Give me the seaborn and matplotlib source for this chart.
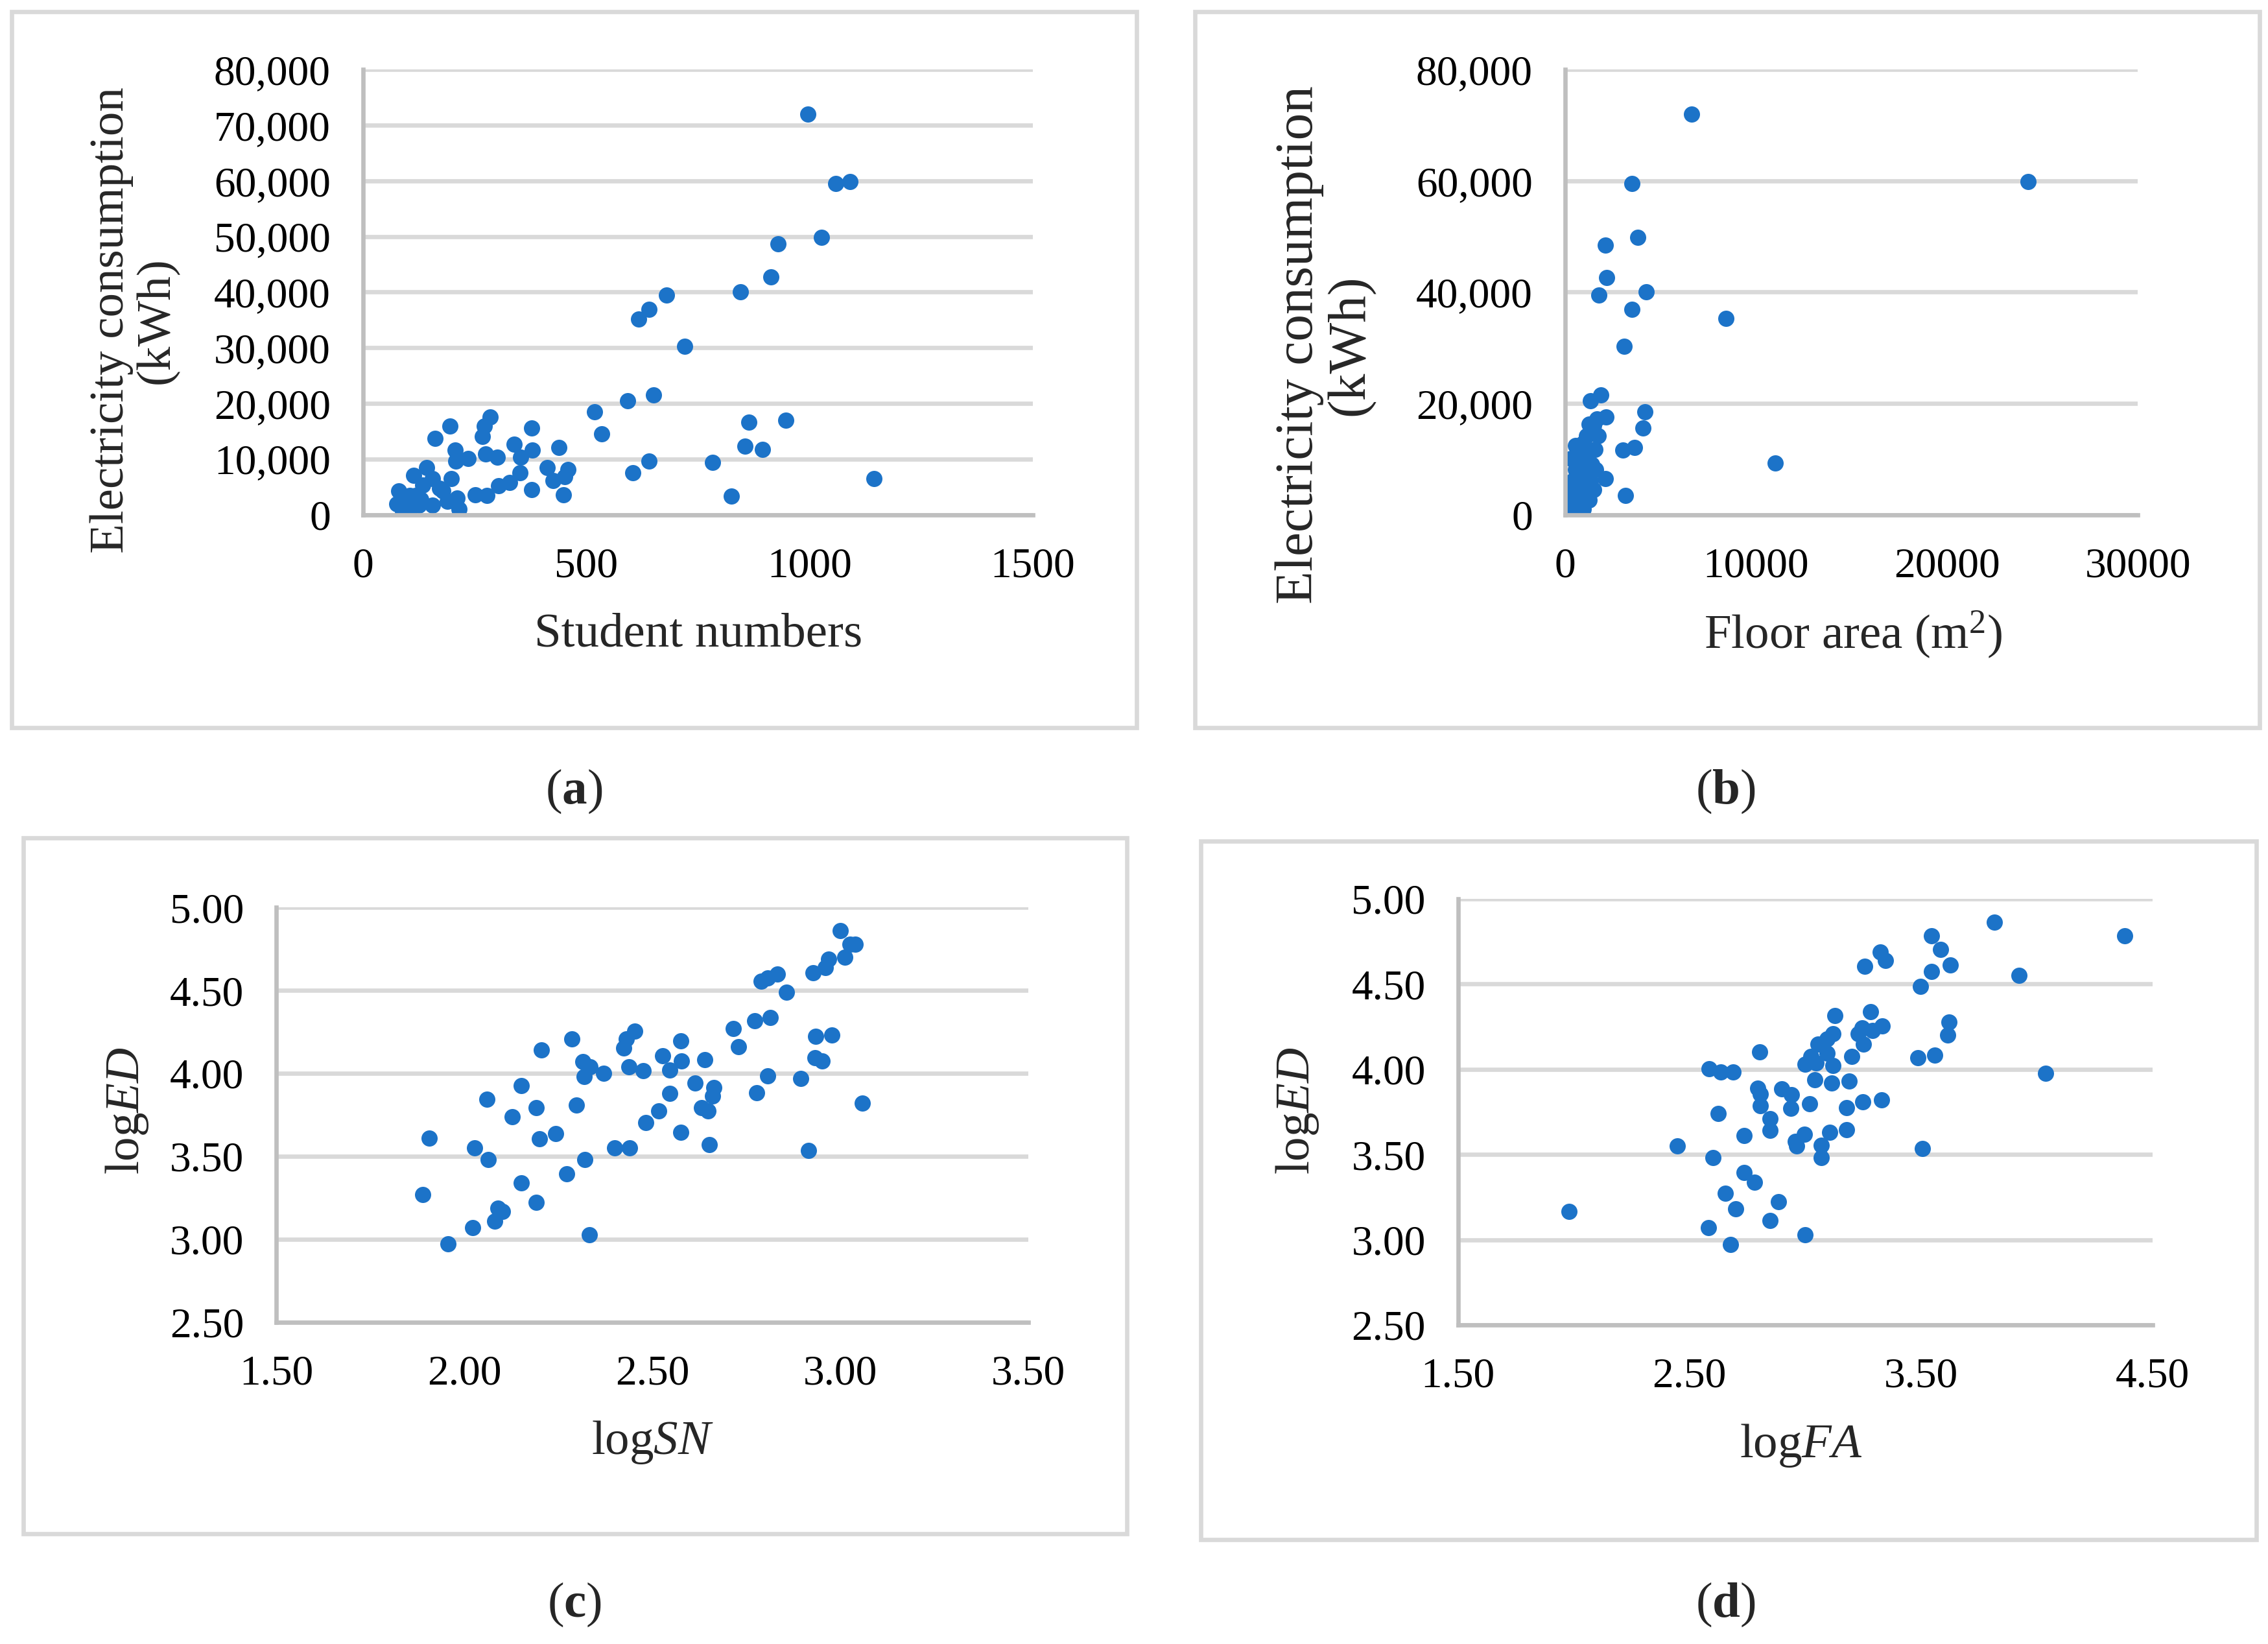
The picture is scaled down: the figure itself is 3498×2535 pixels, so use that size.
import matplotlib
matplotlib.use("Agg")
import matplotlib.pyplot as plt
import seaborn as sns
from matplotlib.patches import Rectangle
from matplotlib.ticker import FuncFormatter, MultipleLocator, FixedLocator

# ---------------- data ----------------
# (a) Student numbers vs electricity consumption (kWh)
sn_a = [997, 1059, 1090, 1027, 929, 914, 846, 680, 641, 617, 721, 651, 592, 519, 535,
        864, 947, 856, 895, 783, 641, 604, 825, 1144, 439, 377, 379, 338, 353, 351,
        413, 459, 426, 452, 449, 377, 329, 304, 285, 272, 267, 275, 301, 277, 251,
        236, 207, 208, 194, 198, 161, 215, 210, 179, 189, 172, 155, 143, 133, 155,
        114, 117, 125, 104, 106, 80, 75, 89, 130, 94]
ed_a = [72020, 59573, 59916, 49787, 48671, 42748, 40087, 39486, 36911, 35194, 30302, 21546,
        20516, 18541, 14507, 16653, 16997, 12361, 11760, 9357, 9614, 7554, 3348, 6524,
        12018, 15623, 11588, 12618, 10301, 7554, 8498, 8155, 6180, 6867, 3605, 4464, 5751,
        5150, 17597, 15880, 14078, 10902, 10301, 3434, 3605, 10129, 11588, 9614, 15966,
        6438, 13734, 1030, 3004, 4292, 2404, 4721, 6438, 8412, 5322, 1717, 7039, 3434,
        1717, 3434, 1116, 4292, 1974, 601, 2747, 2404]

# (b) Floor area (m2) vs electricity consumption (kWh)
fa_b = [6627, 24264, 3492, 3812, 2102, 2173, 1782, 4240, 3492, 8444, 3100, 1888, 1318, 4169,
        4097, 2138, 3029, 3634, 11010, 2102, 3171, 1675, 1496, 1247, 1746, 1140, 962, 534,
        1568, 784, 1140, 321, 606, 1390, 962, 1603, 606, 1140, 427, 891, 1496, 321, 1033,
        178, 677, 1247, 71, 427, 962, 100, 784, 1318, 534, 820, 1425, 1069]
ed_b = [72020, 59916, 59573, 49787, 48500, 42662, 39486, 40087, 36911, 35280, 30302, 21546,
        20516, 18456, 15537, 17597, 11588, 12018, 9271, 6438, 3434, 17168, 16052, 16310,
        14164, 14164, 12876, 12447, 11760, 11159, 10301, 10129, 9443, 9013, 8155, 8155,
        7296, 6867, 6180, 5580, 4464, 4721, 3863, 3434, 3004, 2575, 1717, 1288, 1030, 1545,
        2146, 6009, 8155, 12018, 15451, 3004]

# (c) logSN vs logED
logsn_c = [1.889, 1.907, 1.957, 2.023, 2.027, 2.060, 2.063, 2.081, 2.089, 2.102, 2.127, 2.152,
           2.152, 2.191, 2.191, 2.199, 2.205, 2.243, 2.273, 2.286, 2.298, 2.315, 2.319, 2.321,
           2.333, 2.334, 2.371, 2.400, 2.424, 2.431, 2.439, 2.437, 2.453, 2.476, 2.482, 2.517,
           2.528, 2.546, 2.547, 2.575, 2.576, 2.578, 2.613, 2.631, 2.640, 2.648, 2.652, 2.660,
           2.664, 2.716, 2.729, 2.772, 2.778, 2.789, 2.807, 2.807, 2.813, 2.832, 2.857, 2.894,
           2.915, 2.927, 2.935, 2.933, 2.952, 2.960, 2.969, 2.977, 2.999, 3.012, 3.026, 3.039,
           3.059]
loged_c = [3.271, 3.609, 2.971, 3.069, 3.549, 3.843, 3.480, 3.107, 3.186, 3.167, 3.739, 3.925,
           3.338, 3.793, 3.224, 3.606, 4.140, 3.635, 3.394, 4.207, 3.808, 4.071, 3.979, 3.480,
           3.028, 4.039, 4.001, 3.549, 4.153, 4.207, 3.549, 4.039, 4.254, 4.017, 3.704, 3.774,
           4.106, 3.878, 4.020, 4.197, 3.644, 4.074, 3.941, 3.793, 4.083, 3.774, 3.571, 3.865,
           3.916, 4.270, 4.162, 4.317, 3.884, 4.554, 4.577, 3.985, 4.336, 4.599, 4.488, 3.970,
           3.537, 4.608, 4.223, 4.096, 4.074, 4.637, 4.690, 4.232, 4.861, 4.700, 4.779, 4.779,
           3.821]

# (d) logFA vs logED
logfa_d = [1.981, 2.448, 2.583, 2.586, 2.601, 2.624, 2.636, 2.654, 2.677, 2.689, 2.700, 2.736,
           2.736, 2.780, 2.794, 2.803, 2.806, 2.806, 2.847, 2.847, 2.847, 2.885, 2.900, 2.941,
           2.938, 2.959, 2.962, 2.997, 3.000, 3.000, 3.020, 3.026, 3.041, 3.047, 3.056, 3.070,
           3.070, 3.094, 3.094, 3.106, 3.114, 3.120, 3.120, 3.129, 3.179, 3.179, 3.191, 3.202,
           3.229, 3.246, 3.249, 3.252, 3.258, 3.282, 3.290, 3.326, 3.329, 3.334, 3.346, 3.487,
           3.499, 3.508, 3.546, 3.546, 3.560, 3.584, 3.616, 3.622, 3.628, 3.819, 3.924, 4.039,
           4.382]
loged_d = [3.167, 3.549, 3.072, 4.004, 3.481, 3.739, 3.985, 3.272, 2.974, 3.985, 3.183, 3.610,
           3.395, 3.336, 3.890, 4.102, 3.856, 3.788, 3.709, 3.641, 3.112, 3.223, 3.884, 3.850,
           3.773, 3.579, 3.549, 3.619, 4.031, 3.029, 3.797, 4.074, 3.939, 4.037, 4.148, 3.555,
           3.481, 4.179, 4.096, 3.632, 3.918, 4.022, 4.210, 4.314, 3.776, 3.647, 3.930, 4.074,
           4.207, 4.244, 3.810, 4.148, 4.603, 4.339, 4.226, 4.689, 3.822, 4.253, 4.637, 4.068,
           4.486, 3.536, 4.782, 4.573, 4.084, 4.702, 4.201, 4.277, 4.613, 4.862, 4.551, 3.976,
           4.782]

xticks_d = [1.5, 2.5, 3.5, 4.5]
panel_letters = ["a", "b", "c", "d"]

# ---------------- style ----------------
sns.set_theme(style="white")
plt.rcParams['font.family'] = ['Liberation Serif', 'DejaVu Serif']
plt.rcParams['mathtext.fontset'] = 'custom'
plt.rcParams['mathtext.rm'] = 'Liberation Serif'
plt.rcParams['mathtext.it'] = 'Liberation Serif:italic'
plt.rcParams['mathtext.bf'] = 'Liberation Serif:bold'

DOT = "#1c73c8"
GRID = "#d9d9d9"
SPINE = "#bfbfbf"
TICK_FS = 15.7
LAB_FS = 18
DOT_S = 36

W, H = 1568.0, 1134.0  # layout reference units (top-left origin)
fig = plt.figure(figsize=(3498 / 300, 2535 / 300), dpi=300)
fig.patch.set_facecolor("white")


def frac_rect(x0, y0, x1, y1):
    return [x0 / W, 1 - y1 / H, (x1 - x0) / W, (y1 - y0) / H]


def fpt(x, y):
    return (x / W, 1 - y / H)


# outer panel borders
for (x0, y0, x1, y1) in [(8, 8, 786, 502), (826, 8, 1562, 502),
                         (16, 578, 779, 1058), (830, 580, 1560, 1062)]:
    fig.add_artist(Rectangle((x0 / W, 1 - y1 / H), (x1 - x0) / W, (y1 - y0) / H,
                             transform=fig.transFigure, fill=False, ec=GRID, lw=1.6))

comma = FuncFormatter(lambda v, p: f"{v:,.0f}")
plain = FuncFormatter(lambda v, p: f"{v:.0f}")
two = FuncFormatter(lambda v, p: f"{v:.2f}")


def style(ax, xlim, ylim, xstep, ystep, xfmt, yfmt):
    ax.set_xlim(xlim)
    ax.set_ylim(ylim)
    if isinstance(xstep, list):
        ax.xaxis.set_major_locator(FixedLocator(xstep))
    else:
        ax.xaxis.set_major_locator(MultipleLocator(xstep))
    ax.yaxis.set_major_locator(MultipleLocator(ystep))
    ax.xaxis.set_major_formatter(xfmt)
    ax.yaxis.set_major_formatter(yfmt)
    ax.grid(axis='y', color=GRID, lw=1.6)
    ax.grid(axis='x', visible=False)
    ax.set_axisbelow(True)
    for s in ['top', 'right']:
        ax.spines[s].set_visible(False)
    for s in ['left', 'bottom']:
        ax.spines[s].set_color(SPINE)
        ax.spines[s].set_linewidth(1.6)
    ax.tick_params(length=0, pad=12, labelsize=TICK_FS, colors='black')
    ax.set_facecolor('white')


def labels(ax, xl, yl, xpos, ypos, yfs=LAB_FS):
    ax.set_xlabel(xl, fontsize=LAB_FS)
    ax.set_ylabel(yl, fontsize=yfs, linespacing=1.05)
    ax.xaxis.set_label_coords(*fpt(*xpos), transform=fig.transFigure)
    ax.yaxis.set_label_coords(*fpt(*ypos), transform=fig.transFigure)
    ax.xaxis.label.set_va('center')
    ax.yaxis.label.set_va('center')
    ax.yaxis.label.set_ha('center')


ylab_e = "Electricity consumption\n(kWh)"

# (a)
axa = fig.add_axes(frac_rect(251, 48, 714, 355))
sns.scatterplot(x=sn_a, y=ed_a, ax=axa, color=DOT, s=DOT_S, linewidth=0)
style(axa, (0, 1500), (0, 80000), 500, 10000, plain, comma)
labels(axa, "Student numbers", ylab_e, (483, 438), (93, 221))

# (b)
axb = fig.add_axes(frac_rect(1082, 48, 1478, 355))
sns.scatterplot(x=fa_b, y=ed_b, ax=axb, color=DOT, s=DOT_S, linewidth=0)
style(axb, (0, 30000), (0, 80000), 10000, 20000, plain, comma)
labels(axb, "Floor area (m$^{2}$)", ylab_e, (1281, 438), (916, 238), yfs=20)

# (c)
axc = fig.add_axes(frac_rect(191, 626, 711, 912))
sns.scatterplot(x=logsn_c, y=loged_c, ax=axc, color=DOT, s=DOT_S, linewidth=0)
style(axc, (1.5, 3.5), (2.5, 5.0), 0.5, 0.5, two, two)
labels(axc, "log$\\mathit{SN}$", "log$\\mathit{ED}$", (451, 995), (88, 766))

# (d)
axd = fig.add_axes(frac_rect(1008, 620, 1488, 914))
sns.scatterplot(x=logfa_d, y=loged_d, ax=axd, color=DOT, s=DOT_S, linewidth=0)
style(axd, (1.5, 4.5), (2.5, 5.0), xticks_d, 0.5, two, two)
labels(axd, "log$\\mathit{FA}$", "log$\\mathit{ED}$", (1245, 997), (897, 766))

# panel letters
for letter, (x, y) in zip(panel_letters, [(397, 546), (1193, 546), (397, 1107), (1193, 1107)]):
    fig.text(*fpt(x, y), f"($\\mathbf{{{letter}}}$)", ha='center', va='center', fontsize=18.5)

fig.savefig("out.png", dpi=300, facecolor="white")
